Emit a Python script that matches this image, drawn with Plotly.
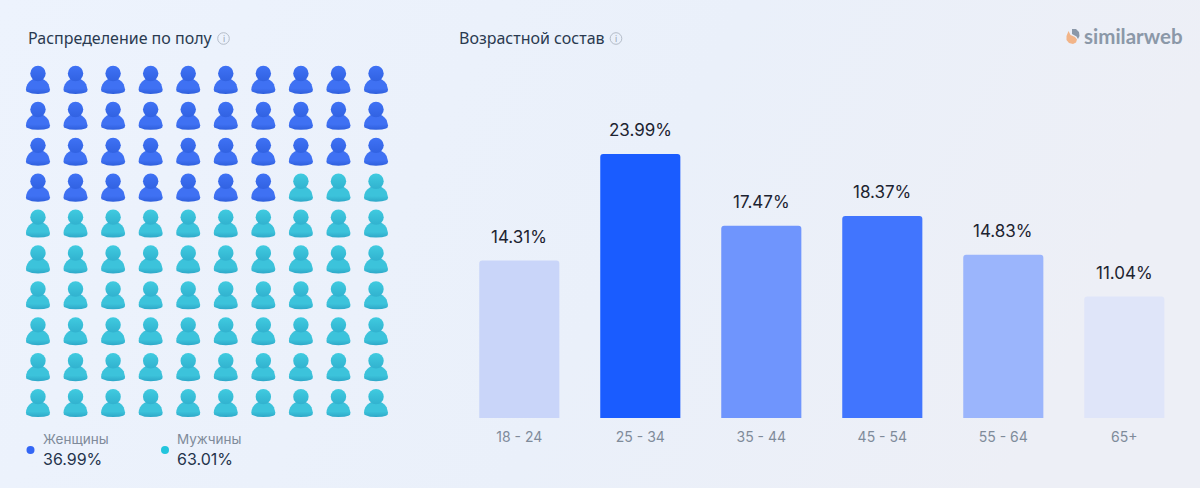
import base64
import plotly.graph_objects as go

W, H = 1200, 488

# Gender split
gender_labels = ["Женщины", "Мужчины"]
gender_shares = [36.99, 63.01]
gender_text = ["36.99%", "63.01%"]

# Age split
age_groups = ["18 - 24", "25 - 34", "35 - 44", "45 - 54", "55 - 64", "65+"]
age_shares = [14.31, 23.99, 17.47, 18.37, 14.83, 11.04]
age_text = ["14.31%", "23.99%", "17.47%", "18.37%", "14.83%", "11.04%"]
age_colors = ["#c9d5f9", "#1a5cff", "#6f95fd", "#4175fe", "#9bb5fc", "#dfe5f9"]

GRID_COLUMNS = 10
GRID_ROWS = 10

BLUE_RAMP = [[0, "#2f5fdc"], [0.35, "#3f71f3"], [0.8, "#3f71f3"], [1, "#3464e4"]]
TEAL_RAMP = [[0, "#2ea8c8"], [0.35, "#3cc3db"], [0.8, "#3cc3db"], [1, "#31aecd"]]
RAMPS = [BLUE_RAMP, TEAL_RAMP]
HEAD_COLORS = [("#3f72f5", "#3162e2"), ("#40cbe0", "#31b2cf")]

DOT_COLORS = ["#3366f5", "#22c5dd"]
INK = "#2a3a50"
MUTED = "#7f8b9a"


def px_x(x):
    return x / W


def px_y(y):
    return 1 - y / H


# Pictogram cells, in px-sized offsets from a cell centre converted to grid units
CELL_W = 37.55
CELL_H = 35.9
BODY_OUTLINE = [
    (-12.0, 9.5), (-11.7, 7.0), (-10.6, 4.2), (-8.8, 1.8), (-6.5, 0.0),
    (-3.5, -1.6), (0.0, -2.0), (3.5, -1.6), (6.5, 0.0), (8.8, 1.8),
    (10.6, 4.2), (11.7, 7.0), (12.0, 9.5), (11.6, 11.6), (10.0, 12.6),
    (6.0, 13.6), (0.0, 14.0), (-6.0, 13.6), (-10.0, 12.6), (-11.6, 11.6),
    (-12.0, 9.5),
]
HEAD_OFFSET = -6.4

fig = go.Figure()

female_cells = round(gender_shares[0])
heads = [[[], []], [[], []]]
for index in range(GRID_COLUMNS * GRID_ROWS):
    row, col = divmod(index, GRID_COLUMNS)
    group = 0 if index < female_cells else 1
    fig.add_trace(go.Scatter(
        x=[col + dx / CELL_W for dx, _ in BODY_OUTLINE],
        y=[row + dy / CELL_H for _, dy in BODY_OUTLINE],
        mode="lines",
        line=dict(width=0),
        fill="toself",
        fillgradient=dict(type="vertical", colorscale=RAMPS[group]),
        hoverinfo="skip",
        showlegend=False,
    ))
    heads[group][0].append(col)
    heads[group][1].append(row + HEAD_OFFSET / CELL_H)

for group, (xs, ys) in enumerate(heads):
    fig.add_trace(go.Scatter(
        x=xs, y=ys, mode="markers",
        marker=dict(
            size=15.4, color=HEAD_COLORS[group][0], line=dict(width=0),
            gradient=dict(type="vertical", color=HEAD_COLORS[group][1]),
        ),
        hoverinfo="skip", showlegend=False,
    ))

fig.add_trace(go.Bar(
    x=age_groups, y=age_shares, xaxis="x2", yaxis="y2",
    marker=dict(color=age_colors, line=dict(width=0)),
    hoverinfo="skip", showlegend=False,
))

annotations = []


def label(x, y, text, size, color, family="Inter", xanchor="left"):
    annotations.append(dict(
        xref="paper", yref="paper", x=px_x(x), y=px_y(y), text=text,
        showarrow=False, xanchor=xanchor, yanchor="middle",
        font=dict(family=family, size=size, color=color),
    ))


for group, value, shown in zip(age_groups, age_shares, age_text):
    annotations.append(dict(
        xref="x2", yref="y2", x=group, y=value, yshift=12,
        text=shown, showarrow=False,
        xanchor="center", yanchor="bottom",
        font=dict(family="Inter", size=17, color="#1c2330"),
    ))

label(26, 38, "Распределение по полу", 16, INK, "Noto Sans")
label(457, 38, "Возрастной состав", 16, INK, "Noto Sans")
label(41, 439, gender_labels[0], 13.5, MUTED)
label(41, 459, gender_text[0], 16, "#25344c")
label(175, 439, gender_labels[1], 13.5, MUTED)
label(175, 459, gender_text[1], 16, "#25344c")
label(1082, 36, "<b>similarweb</b>", 20.5, "#8b98a8", "Lato")

shapes = []


def dot(cx, cy, r, **style):
    shapes.append(dict(
        type="circle", xref="paper", yref="paper",
        x0=px_x(cx - r), x1=px_x(cx + r), y0=px_y(cy + r), y1=px_y(cy - r),
        **style,
    ))


def path(points, color):
    d = " ".join(f"{c} {px_x(v[0])},{px_y(v[1])}" if c != "Z" else "Z" for c, v in points)
    shapes.append(dict(type="path", xref="paper", yref="paper", path=d,
                       fillcolor=color, line=dict(width=0)))


dot(30.5, 450, 4, fillcolor=DOT_COLORS[0], line=dict(width=0))
dot(165, 450, 4, fillcolor=DOT_COLORS[1], line=dict(width=0))

# Info icons next to the section headings
for cx in (223.5, 616):
    dot(cx, 38.5, 5.8, fillcolor="rgba(0,0,0,0)", line=dict(color="#b4bcc8", width=1))
    label(cx, 38.5, "i", 9, "#9aa5b3", "Inter", "center")

# Brand mark: orange drop with a slate crescent
path([("M", (1068.5, 31)), ("L", (1066.5, 36)), ("L", (1066.5, 40)), ("L", (1069, 43)),
      ("L", (1073, 44)), ("L", (1076, 42.5)), ("L", (1077, 39.5)), ("L", (1075, 37)),
      ("L", (1070.5, 35)), ("Z", (0, 0))], "#f2b488")
path([("M", (1072, 29)), ("L", (1076, 29)), ("L", (1079, 32)), ("L", (1079.5, 36)),
      ("L", (1078, 39)), ("L", (1076.5, 36.5)), ("L", (1072, 34)), ("Z", (0, 0))], "#8b98a8")

backdrop = f"""<svg xmlns='http://www.w3.org/2000/svg' width='{W}' height='{H}'>
<defs><linearGradient id='g' x1='0' y1='0' x2='1' y2='0.2'>
<stop offset='0' stop-color='#edf3fd'/><stop offset='0.6' stop-color='#eaf0fa'/>
<stop offset='1' stop-color='#edeff6'/></linearGradient></defs>
<rect width='100%' height='100%' fill='url(#g)'/></svg>"""
backdrop_uri = "data:image/svg+xml;base64," + base64.b64encode(backdrop.encode()).decode()

hidden = dict(visible=False, showgrid=False, zeroline=False)

BAR_BASE = 418
PX_PER_UNIT = 11.0
BAR_TOP = 110
fig.update_layout(
    width=W, height=H,
    margin=dict(l=0, r=0, t=0, b=0),
    paper_bgcolor="#ebf1fb",
    plot_bgcolor="rgba(0,0,0,0)",
    showlegend=False,
    bargap=0.338,
    barcornerradius=3,
    images=[dict(source=backdrop_uri, xref="paper", yref="paper", x=0, y=1,
                 sizex=1, sizey=1, sizing="stretch", layer="below")],
    xaxis=dict(hidden, domain=[px_x(19.2), px_x(394.8)], range=[-0.5, 9.5]),
    yaxis=dict(hidden, domain=[px_y(421.0), px_y(62.0)], range=[9.5, -0.5]),
    xaxis2=dict(
        domain=[px_x(458.8), px_x(1184.8)], anchor="y2", range=[-0.5, 5.5],
        type="category", categoryorder="array", categoryarray=age_groups,
        showgrid=False, zeroline=False, showline=False,
        ticks="outside", ticklen=6, tickcolor="rgba(0,0,0,0)",
        tickfont=dict(family="Inter", size=14, color=MUTED),
    ),
    yaxis2=dict(
        hidden, domain=[px_y(BAR_BASE), px_y(BAR_TOP)],
        range=[0, (BAR_BASE - BAR_TOP) / PX_PER_UNIT],
    ),
    annotations=annotations,
    shapes=shapes,
)

fig.write_html("out.html")
